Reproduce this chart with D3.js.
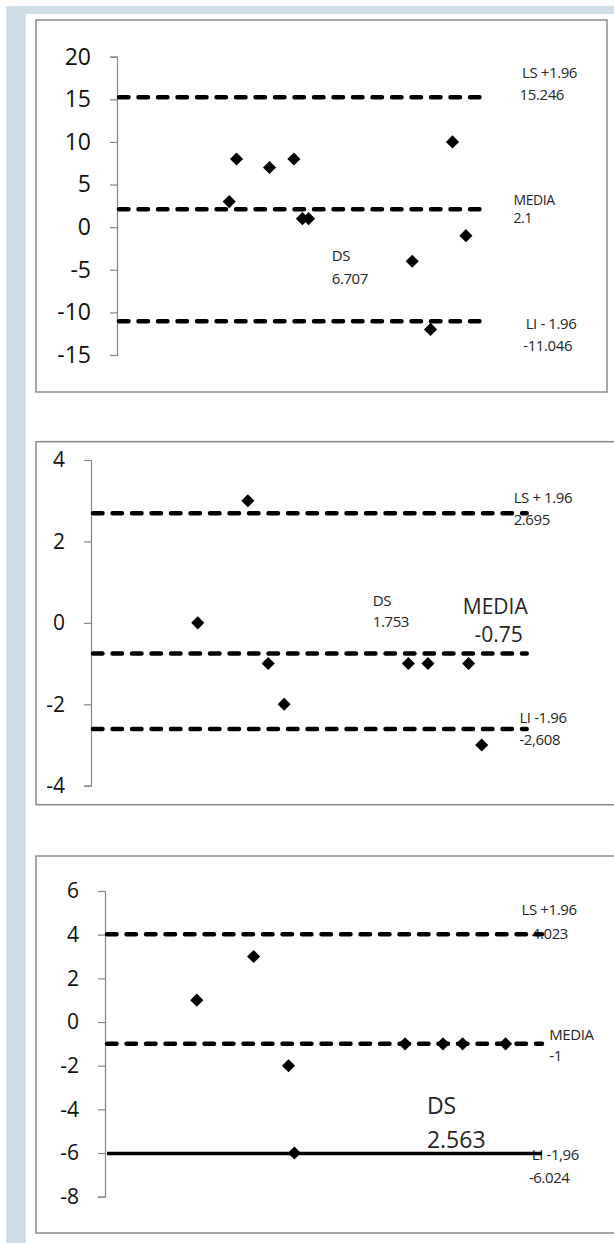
<!DOCTYPE html>
<html>
<head>
<meta charset="utf-8">
<script src="https://cdn.jsdelivr.net/npm/d3@7"></script>
<style>
  body { margin: 0; background: #fff; }
  svg { display: block; font-family: 'Open Sans', sans-serif; }
</style>
</head>
<body>
<div id="chart"></div>
<script>
// panel 1 : differences vs mean
const panel1X = [9.2, 9.8, 12.5, 14.5, 15.2, 15.7, 24.2, 25.7, 27.5, 28.6];
const panel1Y = [3, 8, 7, 8, 1, 1, -4, -12, 10, -1];
const panel1Ticks = [20, 15, 10, 5, 0, -5, -10, -15];
const panel1Limits = [15.246, 2.1, -11.046];
const panel1Notes = ['LS +1.96', '15.246', 'MEDIA', '2.1', 'LI - 1.96', '-11.046', 'DS', '6.707'];

// panel 2
const panel2X = [7.35, 10.8, 12.2, 13.3, 21.85, 23.2, 26.0, 26.9];
const panel2Y = [0, 3, -1, -2, -1, -1, -1, -3];
const panel2Ticks = [4, 2, 0, -2, -4];
const panel2Limits = [2.695, -0.75, -2.608];
const panel2Notes = ['LS + 1.96', '2.695', 'MEDIA', '-0.75', 'LI -1.96', '-2,608', 'DS', '1.753'];

// panel 3
const panel3X = [6.3, 10.2, 12.6, 13.0, 20.6, 23.2, 24.55, 27.5];
const panel3Y = [1, 3, -2, -6, -1, -1, -1, -1];
const panel3Ticks = [6, 4, 2, 0, -2, -4, -6, -8];
const panel3Limits = [4.023, -1, -6.024];
const panel3Notes = ['LS +1.96', '4.023', 'MEDIA', '-1', 'LI -1,96', '-6.024', 'DS', '2.563'];

const width = 614;
const height = 1243;

// layout of each panel (pixels) and where the notes sit (in data units)
const panels = [
  {
    xs: panel1X, ys: panel1Y, ticks: panel1Ticks, limits: panel1Limits, notes: panel1Notes,
    box: { x: 36, y: 20, w: 571, h: 372 },
    xRange: [117, 483], yRange: [355, 56.7], yDomain: [-15, 20], tickFont: 23,
    lineEnds: [30, 30.5, 30], solid: [false, false, false],
    notePos: [[33.2, 17.5], [33.0, 14.9], [32.5, 2.55], [32.5, 0.5], [33.5, -11.93], [33.3, -14.52], [17.6, -3.93], [17.6, -6.63]],
    noteSize: [15, 15, 14, 14, 15, 15, 15, 15]
  },
  {
    xs: panel2X, ys: panel2Y, ticks: panel2Ticks, limits: panel2Limits, notes: panel2Notes,
    box: { x: 36, y: 441.7, w: 600, h: 363 },
    xRange: [91, 526.7], yRange: [785.7, 460], yDomain: [-4, 4], tickFont: 21,
    lineEnds: [30, 30, 30], solid: [false, false, false],
    notePos: [[29.1, 2.94], [29.1, 2.40], [25.6, 0.22], [26.4, -0.46], [29.5, -2.46], [29.5, -3.0], [19.4, 0.41], [19.4, -0.10]],
    noteSize: [15, 15, 21, 21, 15, 15, 15, 15]
  },
  {
    xs: panel3X, ys: panel3Y, ticks: panel3Ticks, limits: panel3Limits, notes: panel3Notes,
    box: { x: 36, y: 856, w: 600, h: 377 },
    xRange: [105, 542], yRange: [1196.7, 891], yDomain: [-8, 6], tickFont: 21,
    lineEnds: [30, 30, 30], solid: [false, false, true],
    notePos: [[28.6, 4.88], [29.3, 3.80], [30.5, -0.81], [30.5, -1.80], [29.3, -6.30], [29.1, -7.37], [22.1, -4.20], [22.1, -5.77]],
    noteSize: [15, 15, 15, 15, 15, 15, 23, 23]
  }
];

const svg = d3.select('#chart')
  .append('svg')
  .attr('width', width)
  .attr('height', height);

// light blue page frame
svg.append('rect').attr('x', 6).attr('y', 6).attr('width', 20).attr('height', height - 6).attr('fill', '#cfdde7');
svg.append('rect').attr('x', 6).attr('y', 6).attr('width', width - 6).attr('height', 8).attr('fill', '#cfdde7');

const diamond = d3.symbol(d3.symbolSquare, 86);

panels.forEach((p) => {
  const g = svg.append('g');

  g.append('rect')
    .attr('x', p.box.x)
    .attr('y', p.box.y)
    .attr('width', p.box.w)
    .attr('height', p.box.h)
    .attr('fill', '#fff')
    .attr('stroke', '#8a8a8a')
    .attr('stroke-width', 1.5);

  const xScale = d3.scaleLinear().domain([0, 30]).range(p.xRange);
  const yScale = d3.scaleLinear().domain(p.yDomain).range(p.yRange);

  // y axis, plain hyphen for negatives like the original
  const axis = g.append('g')
    .attr('transform', `translate(${p.xRange[0]}, 0)`)
    .call(d3.axisLeft(yScale).tickValues(p.ticks).tickSize(7).tickPadding(19).tickFormat((d) => String(d)));
  axis.selectAll('path, line').attr('stroke', '#868686').attr('stroke-width', 1.2);
  axis.selectAll('text')
    .attr('font-family', "'Open Sans', sans-serif")
    .attr('font-size', p.tickFont)
    .attr('fill', '#111');

  // notes (drawn before lines so the line ends run over them)
  g.selectAll('text.note')
    .data(p.notes)
    .join('text')
    .attr('class', 'note')
    .attr('x', (d, i) => xScale(p.notePos[i][0]))
    .attr('y', (d, i) => yScale(p.notePos[i][1]))
    .attr('font-size', (d, i) => p.noteSize[i])
    .attr('letter-spacing', (d, i) => (p.noteSize[i] < 18 ? -0.4 : 0))
    .attr('fill', '#262626')
    .text((d) => d);

  // mean and limits of agreement
  g.selectAll('line.limit')
    .data(p.limits)
    .join('line')
    .attr('class', 'limit')
    .attr('x1', xScale(0) + 2)
    .attr('x2', (d, i) => xScale(p.lineEnds[i]))
    .attr('y1', (d) => yScale(d))
    .attr('y2', (d) => yScale(d))
    .attr('stroke', '#000')
    .attr('stroke-width', (d, i) => (p.solid[i] ? 3.5 : 4.5))
    .attr('stroke-linecap', (d, i) => (p.solid[i] ? 'butt' : 'round'))
    .attr('stroke-dasharray', (d, i) => (p.solid[i] ? null : '9.5,10'));

  // points
  g.selectAll('path.pt')
    .data(p.ys)
    .join('path')
    .attr('class', 'pt')
    .attr('d', diamond)
    .attr('transform', (d, i) => `translate(${xScale(p.xs[i])}, ${yScale(d)}) rotate(45)`)
    .attr('fill', '#000');
});
</script>
</body>
</html>
